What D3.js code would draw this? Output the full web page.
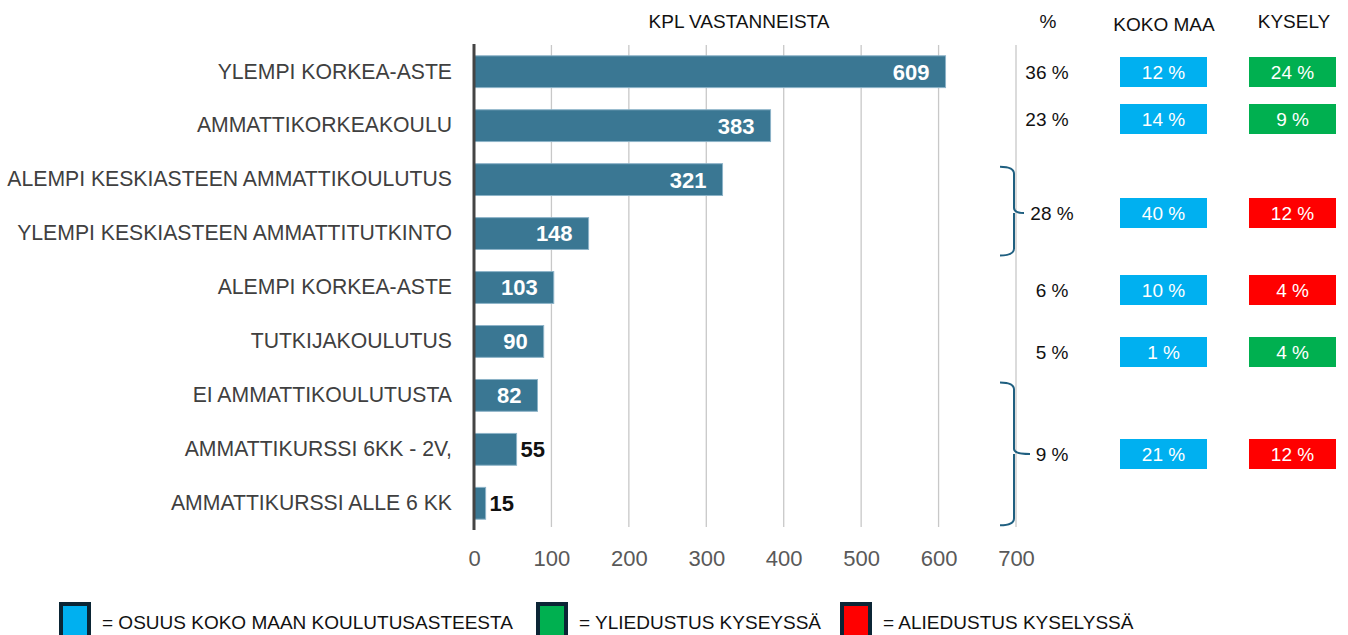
<!DOCTYPE html>
<html><head><meta charset="utf-8">
<script src="https://cdn.jsdelivr.net/npm/d3@7"></script>
<style>body{margin:0;background:#fff;} svg{display:block;} text{font-family:"Liberation Sans",Arial,sans-serif;}</style>
</head><body>
<svg id="c" width="1348" height="635"></svg>
<script>
const categories = ["YLEMPI KORKEA-ASTE","AMMATTIKORKEAKOULU","ALEMPI KESKIASTEEN AMMATTIKOULUTUS","YLEMPI KESKIASTEEN AMMATTITUTKINTO","ALEMPI KORKEA-ASTE","TUTKIJAKOULUTUS","EI AMMATTIKOULUTUSTA","AMMATTIKURSSI 6KK - 2V,","AMMATTIKURSSI ALLE 6 KK"];
const counts = [609,383,321,148,103,90,82,55,15];
const xTicks = [0,100,200,300,400,500,600,700];
// right table: groups span category indices
const groupStart = [0,1,2,4,5,6];
const groupEnd   = [0,1,3,4,5,8];
const shareLabels = ["36 %","23 %","28 %","6 %","5 %","9 %"];
const kokoMaa = ["12 %","14 %","40 %","10 %","1 %","21 %"];
const kysely = ["24 %","9 %","12 %","4 %","4 %","12 %"];
const kyselyType = ["yli","yli","ali","ali","yli","ali"];
const legendLabels = ["= OSUUS KOKO MAAN KOULUTUSASTEESTA","= YLIEDUSTUS KYSEYSSÄ","= ALIEDUSTUS KYSELYSSÄ"];
const legendKeys = ["koko","yli","ali"];

const colors = {koko:"#00B0F0", yli:"#00B050", ali:"#FF0000"};
const svg = d3.select("#c");
const x = d3.scaleLinear().domain([0,700]).range([474,1016]);
const y = d3.scaleBand().domain(categories).range([45,530]).paddingInner(0.41).paddingOuter(0.2);

// grid
svg.append("g").selectAll("line").data(xTicks.slice(1)).join("line")
  .attr("x1",d=>x(d)).attr("x2",d=>x(d)).attr("y1",45).attr("y2",527)
  .attr("stroke","#c8c8c8").attr("stroke-width",1.3);

// x axis labels
const xa = svg.append("g").attr("transform","translate(0,527)")
  .call(d3.axisBottom(x).tickValues(xTicks).tickSize(0).tickPadding(23));
xa.select(".domain").remove();
xa.selectAll("text").attr("font-size",22).attr("fill","#595959").attr("font-family","Liberation Sans, Arial, sans-serif");

// bars
svg.append("g").selectAll("rect").data(counts).join("rect")
  .attr("x",x(0)).attr("y",(d,i)=>y(categories[i]))
  .attr("width",d=>x(d)-x(0)).attr("height",y.bandwidth())
  .attr("fill","#3A7793").attr("stroke","#8db3c8").attr("stroke-width",1);

// bar value labels
svg.append("g").selectAll("text").data(counts).join("text")
  .attr("x",d=> d>=80 ? x(d)-16 : x(d)+4)
  .attr("y",(d,i)=>y(categories[i])+y.bandwidth()/2)
  .attr("dy","0.36em")
  .attr("text-anchor",d=> d>=80 ? "end":"start")
  .attr("font-size",22).attr("font-weight","bold")
  .attr("fill",d=> d>=80 ? "#fff" : "#111")
  .text(d=>d);

// y axis line
svg.append("line").attr("x1",x(0)).attr("x2",x(0)).attr("y1",44).attr("y2",530)
  .attr("stroke","#444").attr("stroke-width",3);

// category labels
const ya = svg.append("g").attr("transform",`translate(${x(0)-22},0)`)
  .call(d3.axisLeft(y).tickSize(0).tickPadding(0));
ya.select(".domain").remove();
ya.selectAll("text").attr("font-size",21.2).attr("fill","#404040").attr("font-family","Liberation Sans, Arial, sans-serif");

// headers
svg.append("text").attr("x",739).attr("y",28).attr("text-anchor","middle").attr("font-size",19).attr("fill","#111").text("KPL VASTANNEISTA");
svg.append("text").attr("x",1048).attr("y",28).attr("text-anchor","middle").attr("font-size",19).attr("fill","#111").text("%");
svg.append("text").attr("x",1164).attr("y",31).attr("text-anchor","middle").attr("font-size",19).attr("fill","#111").text("KOKO MAA");
svg.append("text").attr("x",1294).attr("y",28).attr("text-anchor","middle").attr("font-size",19).attr("fill","#111").text("KYSELY");

const rowY = [72,119,213,290,352,454];

// braces
groupStart.forEach((s,i)=>{
  if (s===groupEnd[i]) return;
  const t = y(categories[s])+3, b = y(categories[groupEnd[i]])+y.bandwidth()+6, m = rowY[i];
  const xv = 1014, xl = 1000, xt = m>400?1030:1024;
  const p = d3.path();
  p.moveTo(xl,t); p.quadraticCurveTo(xv,t,xv,t+7);
  p.lineTo(xv,m-5); p.quadraticCurveTo(xv,m,xt,m);
  p.moveTo(xv,m); p.quadraticCurveTo(xv,m,xv,m+5);
  p.lineTo(xv,b-7); p.quadraticCurveTo(xv,b,xl,b);
  svg.append("path").attr("d",p.toString()).attr("fill","none").attr("stroke","#1F5F80").attr("stroke-width",2);
});

// share labels
svg.append("g").selectAll("text").data(shareLabels).join("text")
  .attr("x",(d,i)=> i<2 ? 1047 : 1052).attr("y",(d,i)=>rowY[i]).attr("dy","0.36em")
  .attr("text-anchor","middle").attr("font-size",19).attr("fill","#111").text(d=>d);

// koko maa boxes
const kg = svg.append("g").selectAll("g").data(kokoMaa).join("g")
  .attr("transform",(d,i)=>`translate(1120,${rowY[i]-15})`);
kg.append("rect").attr("width",87).attr("height",30).attr("fill",colors.koko);
kg.append("text").attr("x",43.5).attr("y",15).attr("dy","0.36em").attr("text-anchor","middle")
  .attr("font-size",19).attr("fill","#fff").text(d=>d);

// kysely boxes
const sg = svg.append("g").selectAll("g").data(kysely).join("g")
  .attr("transform",(d,i)=>`translate(1249,${rowY[i]-15})`);
sg.append("rect").attr("width",87).attr("height",30).attr("fill",(d,i)=>colors[kyselyType[i]]);
sg.append("text").attr("x",43.5).attr("y",15).attr("dy","0.36em").attr("text-anchor","middle")
  .attr("font-size",19).attr("fill","#fff").text(d=>d);

// legend
const legX = [59,536,840];
const lg = svg.append("g").selectAll("g").data(legendLabels).join("g")
  .attr("transform",(d,i)=>`translate(${legX[i]},602)`);
lg.append("rect").attr("x",2).attr("y",2).attr("width",28).attr("height",34)
  .attr("fill",(d,i)=>colors[legendKeys[i]]).attr("stroke","#0B2535").attr("stroke-width",4);
lg.append("text").attr("x",43).attr("y",20).attr("dy","0.36em").attr("font-size",19).attr("fill","#111").text(d=>d);
</script>
</body></html>
